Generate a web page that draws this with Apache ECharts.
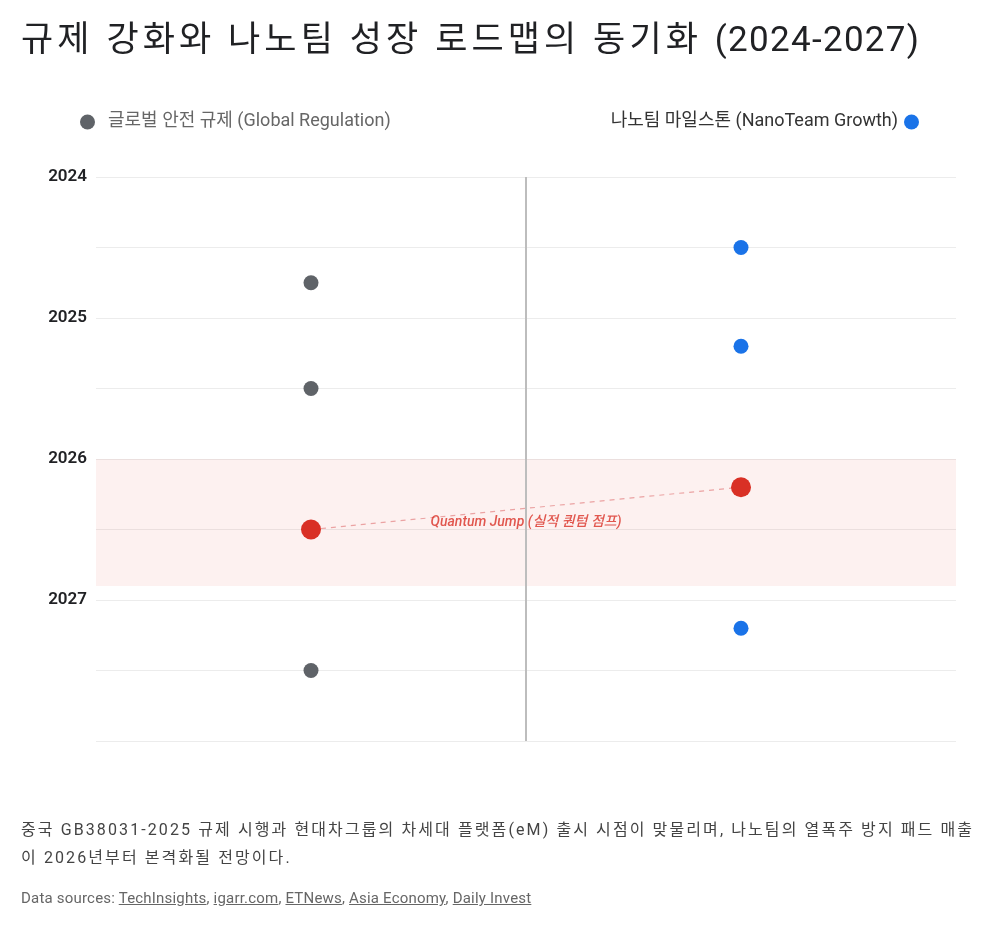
<!DOCTYPE html>
<html>
<head>
<meta charset="utf-8">
<script src="https://cdn.jsdelivr.net/npm/echarts@6/dist/echarts.min.js"></script>
<style>
    html, body { margin: 0; padding: 0; background: #fff; }
    body { position: relative; width: 1000px; height: 928px; overflow: hidden; }
    #chart { width: 1000px; height: 928px; }
    .txt { position: absolute; font-family: Roboto, "Noto Sans CJK KR", sans-serif; white-space: nowrap; }
    .title { left: 21px; top: 19px; font-size: 35px; line-height: 42px; letter-spacing: 4.1px; color: #202124; }
    .title span { letter-spacing: 1.3px; }
    .note { left: 21px; top: 816px; font-size: 16px; line-height: 28px; letter-spacing: 2.1px; color: #444; }
    .sources { left: 21px; top: 888px; font-size: 15px; line-height: 20px; letter-spacing: 0.2px; color: #666; }
    .sources a { color: #666; text-decoration: underline; }
</style>
</head>
<body>
<div id="chart"></div>
<div class="txt title">규제 강화와 나노팀 성장 로드맵의 동기화 <span>(2024-2027)</span></div>
<div class="txt note">중국 GB38031-2025 규제 시행과 현대차그룹의 차세대 플랫폼(eM) 출시 시점이 맞물리며, 나노팀의 열폭주 방지 패드 매출<br>이 2026년부터 본격화될 전망이다.</div>
<div class="txt sources">Data sources: <a>TechInsights</a>, <a>igarr.com</a>, <a>ETNews</a>, <a>Asia Economy</a>, <a>Daily Invest</a></div>
<script>
    // 데이터
    var seriesNames = ['글로벌 안전 규제 (Global Regulation)', '나노팀 마일스톤 (NanoTeam Growth)'];
    var lanePos = [0.25, 0.75];
    var regYears = [2024.75, 2025.5, 2026.5, 2027.5];
    var nanoYears = [2024.5, 2025.2, 2026.2, 2027.2];
    var jumpIndex = 2; // 퀀텀 점프 지점
    var bandRange = [2026, 2026.9];
    var yearTicks = [2024, 2025, 2026, 2027];
    var jumpLabel = 'Quantum Jump (실적 퀀텀 점프)';

    var FONT = 'Roboto, "Noto Sans CJK KR", sans-serif';
    var GRAY = '#5f6368', BLUE = '#1a73e8', RED = '#d93025';

    function toPoints (lane, years, color) {
        return years.map(function (y, i) {
            if (i === jumpIndex) {
                return { value: [lane, y], symbolSize: 20, itemStyle: { color: RED, opacity: 1 } };
            }
            return { value: [lane, y], itemStyle: { color: color, opacity: 1 } };
        });
    }

    var regJump = [lanePos[0], regYears[jumpIndex]];
    var nanoJump = [lanePos[1], nanoYears[jumpIndex]];
    var midJump = [(regJump[0] + nanoJump[0]) / 2, (regJump[1] + nanoJump[1]) / 2];

    var myChart = echarts.init(document.getElementById('chart'));
    var option = {
        animation: false,
        textStyle: { fontFamily: FONT },
        legend: [
            {
                data: [seriesNames[0]],
                left: 75, top: 108,
                icon: 'circle', itemWidth: 15, itemHeight: 15,
                textStyle: { fontSize: 18, color: '#666', fontFamily: FONT, padding: [0, 0, 0, 8] }
            },
            {
                data: [seriesNames[1]],
                right: 76, top: 108, align: 'right',
                icon: 'circle', itemWidth: 15, itemHeight: 15,
                textStyle: { fontSize: 18, color: '#333', fontFamily: FONT, padding: [0, 1, 0, 0] }
            }
        ],
        grid: { left: 96, right: 44, top: 177, bottom: 187 },
        xAxis: {
            type: 'value', min: 0, max: 1,
            show: false
        },
        yAxis: {
            type: 'value', inverse: true,
            min: 2024, max: 2028, interval: 0.5,
            axisLine: { show: false },
            axisTick: { show: false },
            splitLine: { lineStyle: { color: '#ececec', width: 1 } },
            axisLabel: {
                margin: 9,
                fontSize: 17, fontWeight: 600, color: '#202124', fontFamily: FONT,
                formatter: function (v) {
                    return yearTicks.indexOf(v) >= 0 ? String(v) : '';
                }
            }
        },
        series: [
            {
                name: seriesNames[0],
                type: 'scatter',
                symbolSize: 15,
                itemStyle: { color: GRAY, opacity: 1 },
                data: toPoints(lanePos[0], regYears, GRAY),
                z: 5,
                markArea: {
                    silent: true,
                    itemStyle: { color: 'rgba(234, 67, 53, 0.075)' },
                    data: [[{ yAxis: bandRange[0] }, { yAxis: bandRange[1] }]]
                },
                markLine: {
                    silent: true,
                    symbol: 'none',
                    label: { show: false },
                    lineStyle: { color: '#bdbdbd', width: 2, type: 'solid' },
                    data: [{ xAxis: 0.5 }]
                }
            },
            {
                name: seriesNames[1],
                type: 'scatter',
                symbolSize: 15,
                itemStyle: { color: BLUE, opacity: 1 },
                data: toPoints(lanePos[1], nanoYears, BLUE),
                z: 5
            },
            {
                name: 'jump',
                type: 'line',
                data: [regJump, nanoJump],
                symbol: 'none',
                lineStyle: { color: '#eba3a3', width: 1.2, type: [5, 5] },
                z: 3,
                silent: true
            },
            {
                name: 'jumpLabel',
                type: 'scatter',
                data: [midJump],
                symbolSize: 0,
                silent: true,
                label: {
                    show: true,
                    position: 'bottom',
                    distance: 7,
                    formatter: jumpLabel,
                    fontSize: 14, fontStyle: 'italic', fontWeight: 500,
                    color: RED, fontFamily: FONT
                },
                z: 6
            }
        ]
    };
    myChart.setOption(option);
</script>
</body>
</html>
